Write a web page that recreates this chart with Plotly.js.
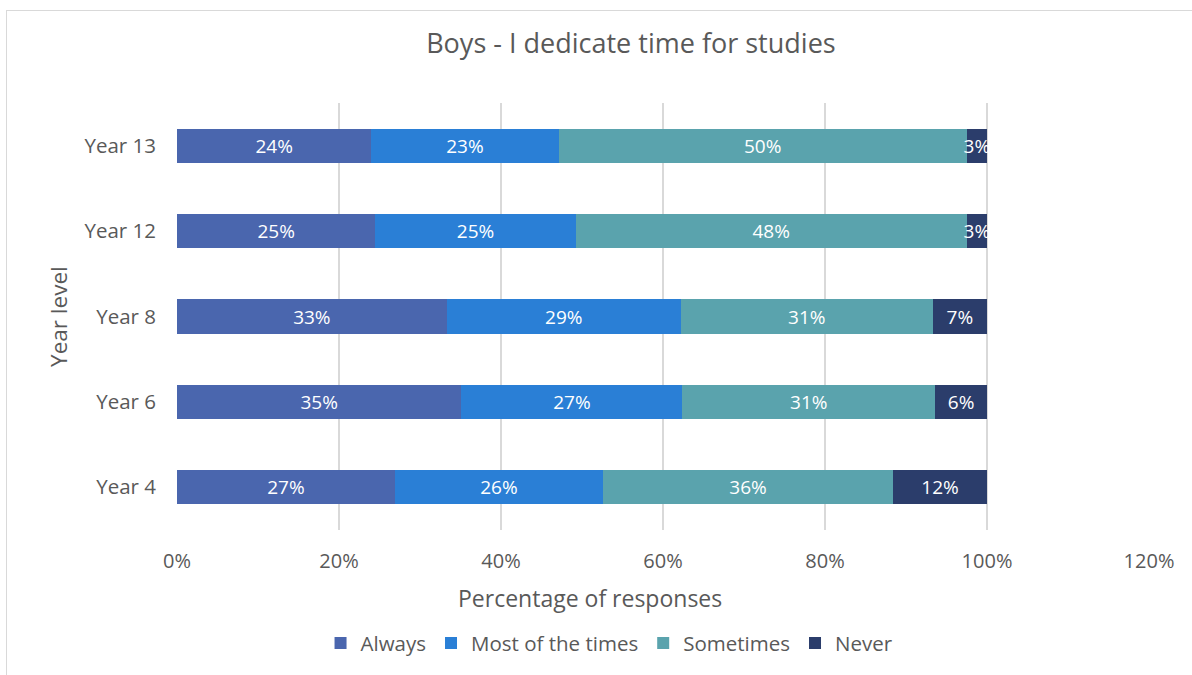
<!DOCTYPE html>
<html><head><meta charset="utf-8">
<script src="https://cdn.plot.ly/plotly-3.0.1.min.js"></script>
<style>
html,body{margin:0;padding:0;background:#fff;}
#frame{position:absolute;left:6px;top:10px;width:1190px;height:670px;border:1.5px solid #d9d9d9;box-sizing:border-box;}
#chart{position:absolute;left:0;top:0;width:1192px;height:675px;}
</style></head>
<body>
<div id="frame"></div>
<div id="chart"></div>
<script>
const categories = ["Year 4", "Year 6", "Year 8", "Year 12", "Year 13"];
const always    = [0.269, 0.351, 0.333, 0.245, 0.240];
const mostTimes = [0.257, 0.273, 0.289, 0.247, 0.231];
const sometimes = [0.358, 0.312, 0.311, 0.483, 0.504];
const never     = [0.116, 0.064, 0.067, 0.025, 0.025];
const seriesNames = ["Always", "Most of the times", "Sometimes", "Never"];
const colors = ["#4a66ae", "#2a7fd6", "#5aa3ad", "#2b3d6b"];
const xTicks = [0, 0.2, 0.4, 0.6, 0.8, 1.0, 1.2];

const font = "Open Sans, Liberation Sans, sans-serif";
const series = [always, mostTimes, sometimes, never];
const data = series.map((vals, i) => ({
  type: "bar", orientation: "h",
  name: seriesNames[i], y: categories, x: vals,
  marker: {color: colors[i]},
  text: vals.map(v => Math.round(v*100) + "%"),
  texttemplate: "%{text}",
  textposition: "inside", insidetextanchor: "middle", textangle: 0,
  constraintext: "none", cliponaxis: false,
  textfont: {color: "#ffffff", size: 19, family: font},
  hoverinfo: "skip"
}));

const layout = {
  width: 1192, height: 675,
  paper_bgcolor: "rgba(0,0,0,0)", plot_bgcolor: "rgba(0,0,0,0)",
  barmode: "stack", bargap: 0.6,
  margin: {l: 177, r: 43, t: 103, b: 145},
  font: {family: font, color: "#595959", size: 20},
  title: {text: "Boys - I dedicate time for studies", x: 0.467, xref: "paper", xanchor: "center", y: 0.935, yanchor: "middle",
          font: {size: 27, color: "#595959", family: font}},
  xaxis: {range: [0, 1.2], tickvals: xTicks, tickformat: ".0%", showgrid: true, gridcolor: "#d9d9d9", gridwidth: 1.5,
          zeroline: false, showline: false, ticks: "", tickfont: {size: 20}, ticklabelstandoff: 17, fixedrange: true},
  yaxis: {categoryorder: "array", categoryarray: categories, showgrid: false, showline: false, ticks: "",
          ticklabelstandoff: 20, tickfont: {size: 20.5}, fixedrange: true},
  showlegend: true,
  legend: {orientation: "h", x: 0.445, xanchor: "center", y: -0.265, yanchor: "middle",
           font: {size: 20.5}, traceorder: "normal", itemwidth: 30},
  annotations: [
    {text: "Percentage of responses", xref: "paper", yref: "paper", x: 0.425, y: -0.16, xanchor: "center", yanchor: "middle",
     showarrow: false, font: {size: 23, color: "#595959"}},
    {text: "Year level", xref: "paper", yref: "paper", x: -0.122, y: 0.5, xanchor: "center", yanchor: "middle", textangle: -90,
     showarrow: false, font: {size: 22.5, color: "#595959"}}
  ]
};
Plotly.newPlot("chart", data, layout, {displayModeBar: false, staticPlot: true});
</script>
</body></html>
